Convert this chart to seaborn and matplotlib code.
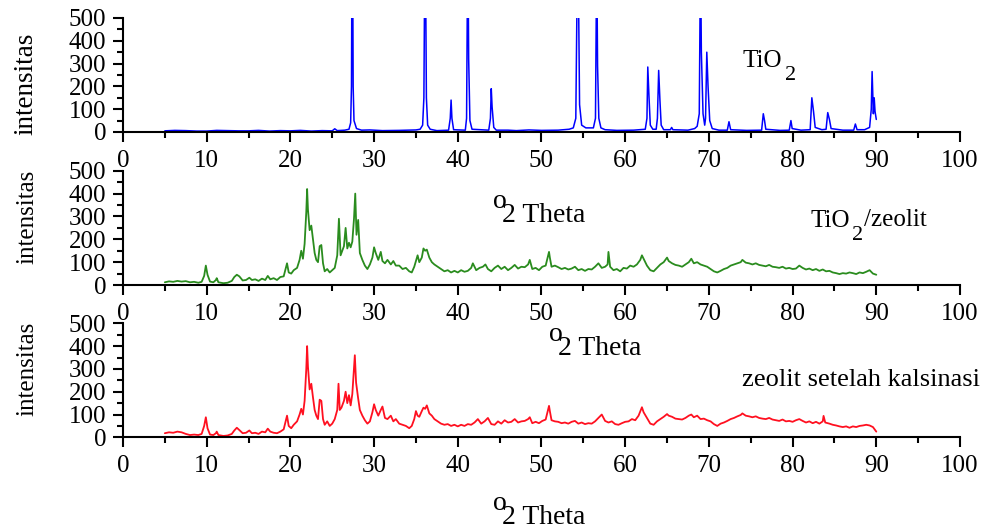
import numpy as np
import pandas as pd
import matplotlib.pyplot as plt
import seaborn as sea

### Data
# TiO2
tio2_pts = [(5.0, 5), (6.2, 7), (7.5, 6), (8.8, 4), (10.0, 4), (11.2, 7), (12.5, 6), (13.8, 5), (15.0, 5),
            (16.2, 7), (17.5, 4), (18.8, 6), (20.0, 5), (21.2, 7), (22.5, 4), (23.8, 6),
            (25.0, 5), (25.3, 14), (25.6, 6), (26.5, 8), (27.0, 12), (27.2, 40), (27.3, 200), (27.4, 1200),
            (27.5, 200), (27.6, 50), (27.9, 15), (28.5, 8), (29.5, 9), (31.0, 6), (33.0, 7), (35.0, 9),
            (35.5, 12), (35.8, 30), (35.95, 150), (36.1, 1000), (36.25, 150), (36.4, 30), (36.7, 12),
            (37.5, 6), (38.9, 8), (39.1, 60), (39.2, 140), (39.3, 60), (39.5, 10), (40.9, 8),
            (41.05, 60), (41.2, 900), (41.3, 320), (41.45, 50), (41.7, 12), (43.7, 8), (43.9, 60),
            (44.0, 190), (44.1, 110), (44.3, 20), (44.6, 8), (46.0, 8), (47.0, 6), (48.5, 9), (50.0, 7),
            (52.0, 8), (53.3, 12), (53.8, 18), (54.1, 60), (54.25, 600), (54.4, 700), (54.55, 120),
            (54.8, 30), (55.3, 18), (56.2, 18), (56.45, 60), (56.6, 800), (56.7, 290), (56.85, 60),
            (57.1, 18), (57.6, 10), (59.0, 7), (61.0, 8), (62.4, 12), (62.6, 60), (62.7, 285),
            (62.85, 150), (63.0, 30), (63.3, 12), (63.7, 12), (63.85, 60), (64.0, 270), (64.15, 140),
            (64.3, 30), (64.6, 10), (65.4, 10), (65.55, 20), (65.7, 10), (67.5, 8), (68.3, 15),
            (68.6, 25), (68.85, 80), (69.0, 800), (69.1, 350), (69.3, 80), (69.5, 30), (69.6, 60),
            (69.75, 350), (69.9, 200), (70.1, 50), (70.4, 15), (71.2, 8), (72.2, 8), (72.4, 45),
            (72.6, 10), (74.5, 7), (76.3, 8), (76.5, 80), (76.65, 50), (76.8, 12), (78.5, 7),
            (79.6, 8), (79.8, 50), (79.95, 15), (81.0, 8), (82.1, 10), (82.3, 150), (82.5, 90),
            (82.7, 20), (83.5, 10), (84.0, 12), (84.2, 85), (84.4, 55), (84.6, 15), (86.0, 8),
            (87.3, 8), (87.5, 35), (87.7, 10), (88.6, 10), (89.2, 20), (89.4, 100), (89.5, 265),
            (89.65, 80), (89.75, 150), (89.85, 90), (90.0, 55)]

# TiO2/zeolit
tio2_zeolit_pts = [(5.0, 12), (5.5, 16), (6.0, 14), (6.5, 18), (7.0, 15), (7.5, 17), (8.0, 12), (8.5, 14),
                   (9.0, 10), (9.4, 14), (9.7, 40), (9.9, 85), (10.1, 45), (10.4, 15), (10.8, 12),
                   (11.1, 22), (11.2, 30), (11.4, 12), (12.0, 8), (12.5, 10), (13.0, 18), (13.3, 35),
                   (13.6, 45), (13.9, 38), (14.3, 20), (14.7, 22), (15.1, 32), (15.4, 22), (15.8, 25),
                   (16.2, 18), (16.6, 28), (17.0, 22), (17.3, 40), (17.6, 25), (18.0, 30), (18.4, 22),
                   (18.8, 35), (19.2, 38), (19.6, 95), (19.8, 55), (20.1, 50), (20.4, 65), (20.8, 75),
                   (21.1, 110), (21.3, 150), (21.5, 115), (21.7, 180), (21.9, 320), (22.0, 420),
                   (22.1, 330), (22.3, 240), (22.5, 260), (22.7, 200), (22.9, 140), (23.1, 110),
                   (23.3, 100), (23.5, 170), (23.7, 175), (23.9, 95), (24.1, 60), (24.4, 70), (24.7, 55),
                   (25.0, 65), (25.3, 75), (25.6, 130), (25.8, 290), (26.0, 130), (26.2, 150), (26.4, 170),
                   (26.6, 250), (26.8, 160), (27.0, 185), (27.2, 165), (27.4, 190), (27.6, 290),
                   (27.75, 400), (27.9, 220), (28.1, 285), (28.3, 140), (28.6, 110), (28.9, 85),
                   (29.2, 70), (29.5, 90), (29.8, 120), (30.0, 165), (30.2, 140), (30.5, 110), (30.8, 145),
                   (31.0, 105), (31.3, 95), (31.6, 110), (32.0, 90), (32.3, 105), (32.6, 85), (33.0, 85),
                   (33.4, 70), (33.8, 75), (34.2, 60), (34.5, 55), (34.8, 80), (35.0, 105), (35.2, 130),
                   (35.4, 100), (35.7, 120), (35.9, 160), (36.1, 150), (36.3, 155), (36.6, 120),
                   (36.9, 100), (37.2, 90), (37.6, 80), (38.0, 70), (38.4, 60), (38.8, 65), (39.2, 55),
                   (39.6, 62), (40.0, 55), (40.4, 65), (40.8, 58), (41.2, 62), (41.6, 75), (41.8, 95),
                   (42.2, 65), (42.6, 75), (43.0, 80), (43.3, 90), (43.6, 70), (44.0, 60), (44.4, 75),
                   (44.8, 85), (45.2, 70), (45.6, 80), (46.0, 65), (46.4, 75), (46.8, 88), (47.2, 72),
                   (47.6, 80), (48.0, 78), (48.4, 90), (48.6, 110), (48.9, 70), (49.3, 75), (49.7, 65),
                   (50.1, 80), (50.5, 85), (50.9, 145), (51.0, 120), (51.2, 80), (51.6, 85), (52.0, 78),
                   (52.4, 70), (52.8, 75), (53.2, 68), (53.6, 72), (54.0, 80), (54.4, 65), (54.8, 70),
                   (55.2, 62), (55.6, 70), (56.0, 68), (56.4, 80), (56.8, 95), (57.2, 75), (57.6, 80),
                   (57.9, 90), (58.0, 145), (58.2, 80), (58.6, 65), (59.0, 70), (59.4, 60), (59.8, 75),
                   (60.2, 72), (60.6, 85), (61.0, 80), (61.4, 90), (61.8, 110), (62.0, 130), (62.2, 115),
                   (62.6, 85), (63.0, 65), (63.4, 60), (63.8, 75), (64.2, 90), (64.6, 100), (65.0, 120),
                   (65.2, 105), (65.6, 95), (66.0, 88), (66.4, 85), (66.8, 80), (67.2, 90), (67.6, 100),
                   (67.9, 115), (68.2, 95), (68.6, 100), (69.0, 90), (69.4, 85), (69.8, 80), (70.2, 70),
                   (70.6, 60), (71.0, 55), (71.4, 62), (71.8, 70), (72.2, 75), (72.6, 85), (73.0, 90),
                   (73.4, 95), (73.8, 100), (74.0, 110), (74.4, 98), (74.8, 95), (75.2, 90), (75.6, 95),
                   (76.0, 88), (76.4, 85), (76.8, 82), (77.2, 88), (77.6, 80), (78.0, 78), (78.4, 75),
                   (78.8, 80), (79.2, 72), (79.6, 75), (80.0, 70), (80.4, 72), (80.8, 85), (81.2, 75),
                   (81.6, 68), (82.0, 72), (82.4, 65), (82.8, 70), (83.2, 62), (83.6, 68), (84.0, 60),
                   (84.4, 62), (84.8, 55), (85.2, 52), (85.6, 48), (86.0, 52), (86.4, 50), (86.8, 55),
                   (87.2, 52), (87.6, 48), (88.0, 55), (88.4, 52), (88.8, 58), (89.2, 65), (89.6, 50),
                   (90.0, 45)]

# zeolit setelah kalsinasi
zeolit_pts = [(5.0, 18), (5.5, 22), (6.0, 20), (6.5, 25), (7.0, 22), (7.5, 15), (8.0, 10), (8.5, 12),
              (9.0, 10), (9.4, 15), (9.7, 50), (9.9, 88), (10.1, 40), (10.4, 12), (10.8, 10), (11.1, 18),
              (11.2, 25), (11.4, 10), (12.0, 6), (12.5, 8), (13.0, 15), (13.3, 30), (13.6, 42),
              (13.9, 32), (14.3, 18), (14.7, 20), (15.1, 30), (15.4, 18), (15.8, 20), (16.2, 15),
              (16.6, 25), (17.0, 22), (17.3, 38), (17.6, 25), (18.0, 20), (18.4, 18), (18.8, 25),
              (19.2, 35), (19.6, 95), (19.8, 50), (20.1, 40), (20.4, 55), (20.8, 70), (21.1, 100),
              (21.3, 125), (21.5, 100), (21.7, 160), (21.9, 300), (22.0, 400), (22.1, 310), (22.3, 210),
              (22.5, 235), (22.7, 175), (22.9, 120), (23.1, 95), (23.3, 80), (23.5, 165), (23.7, 160),
              (23.9, 80), (24.1, 55), (24.4, 70), (24.7, 50), (25.0, 60), (25.3, 80), (25.6, 120),
              (25.75, 235), (25.9, 120), (26.1, 130), (26.4, 160), (26.6, 200), (26.8, 150), (27.0, 185),
              (27.2, 140), (27.4, 190), (27.6, 300), (27.7, 360), (27.85, 240), (28.1, 170), (28.3, 120),
              (28.6, 95), (28.9, 75), (29.2, 60), (29.5, 70), (29.8, 110), (30.0, 145), (30.2, 120),
              (30.5, 95), (30.8, 120), (31.0, 135), (31.3, 85), (31.6, 80), (32.0, 95), (32.3, 70),
              (32.6, 80), (33.0, 60), (33.4, 55), (33.8, 50), (34.2, 40), (34.5, 50), (34.8, 80),
              (35.0, 115), (35.2, 95), (35.4, 90), (35.7, 115), (35.9, 130), (36.1, 125), (36.3, 140),
              (36.6, 105), (36.9, 95), (37.2, 80), (37.6, 70), (38.0, 60), (38.4, 55), (38.8, 58),
              (39.2, 50), (39.6, 55), (40.0, 48), (40.4, 55), (40.8, 50), (41.2, 58), (41.6, 55),
              (42.0, 65), (42.4, 80), (42.8, 60), (43.2, 70), (43.6, 85), (44.0, 58), (44.4, 55),
              (44.8, 70), (45.2, 60), (45.6, 75), (46.0, 65), (46.4, 68), (46.8, 80), (47.2, 65),
              (47.6, 70), (48.0, 72), (48.4, 80), (48.6, 88), (48.9, 62), (49.3, 68), (49.7, 62),
              (50.1, 72), (50.5, 78), (50.9, 138), (51.0, 115), (51.2, 75), (51.6, 70), (52.0, 68),
              (52.4, 62), (52.8, 65), (53.2, 60), (53.6, 68), (54.0, 72), (54.4, 60), (54.8, 65),
              (55.2, 58), (55.6, 62), (56.0, 60), (56.4, 70), (56.8, 85), (57.2, 100), (57.6, 72),
              (58.0, 65), (58.4, 70), (58.8, 58), (59.2, 55), (59.6, 62), (60.0, 68), (60.4, 70),
              (60.8, 80), (61.2, 75), (61.6, 95), (62.0, 132), (62.2, 110), (62.6, 85), (63.0, 60),
              (63.4, 55), (63.8, 70), (64.2, 80), (64.6, 90), (65.0, 102), (65.2, 95), (65.6, 90),
              (66.0, 82), (66.4, 80), (66.8, 78), (67.2, 85), (67.6, 95), (67.9, 100), (68.2, 88),
              (68.6, 95), (69.0, 80), (69.4, 82), (69.8, 75), (70.2, 70), (70.6, 58), (71.0, 50),
              (71.4, 60), (71.8, 65), (72.2, 72), (72.6, 80), (73.0, 85), (73.4, 92), (73.8, 98),
              (74.0, 105), (74.4, 95), (74.8, 92), (75.2, 88), (75.6, 92), (76.0, 85), (76.4, 82),
              (76.8, 80), (77.2, 85), (77.6, 78), (78.0, 75), (78.4, 72), (78.8, 78), (79.2, 70),
              (79.6, 72), (80.0, 68), (80.4, 75), (80.8, 80), (81.2, 72), (81.6, 65), (82.0, 70),
              (82.4, 62), (82.8, 68), (83.2, 60), (83.6, 70), (83.7, 94), (83.9, 65), (84.4, 60),
              (84.8, 55), (85.2, 52), (85.6, 48), (86.0, 45), (86.4, 48), (86.8, 42), (87.2, 48),
              (87.6, 45), (88.0, 50), (88.4, 52), (88.8, 55), (89.2, 52), (89.6, 45), (90.0, 25)]

cores = ['#0000ff', '#2a8c1e', '#ff1020']

### Estilo
sea.set_style('ticks', {'axes.edgecolor': 'black', 'xtick.color': 'black', 'ytick.color': 'black',
                        'text.color': 'black', 'axes.labelcolor': 'black'})
plt.rcParams['font.family'] = ['Liberation Serif', 'DejaVu Serif']

fig = plt.figure(figsize=(9.83, 5.29), dpi=100)

# posições dos 3 painéis (left, bottom, width, height)
posicoes = [[0.1251, 0.7505, 0.8515, 0.2155],
            [0.1251, 0.4612, 0.8515, 0.2160],
            [0.1251, 0.1733, 0.8515, 0.2155]]
xlabel_pos = [(0.503, -0.623), (0.570, -0.446), (0.503, -0.59)]
ylabel_pos = [(-0.101, 0.425), (-0.101, 0.60), (-0.101, 0.60)]
ylabel_size = [19.5, 18, 18]
larguras = [1.1, 1.3, 1.3]

series = [tio2_pts, tio2_zeolit_pts, zeolit_pts]
axes = []

for i, pts in enumerate(series):
    ax = fig.add_axes(posicoes[i])
    df = pd.DataFrame(pts, columns=['theta', 'intensitas'])
    sea.lineplot(data=df, x='theta', y='intensitas', ax=ax, color=cores[i],
                 linewidth=larguras[i], sort=False, estimator=None)
    ax.set_xlim(0, 100)
    ax.set_ylim(0, 500)
    ax.set_xticks(np.arange(0, 101, 10))
    ax.set_xticks(np.arange(0, 101, 5), minor=True)
    ax.set_yticks(np.arange(0, 501, 100))
    ax.set_yticks(np.arange(0, 501, 50), minor=True)
    ax.tick_params(which='major', direction='out', length=7, width=1.5, labelsize=18)
    ax.tick_params(which='minor', direction='out', length=4, width=1.5)
    ax.tick_params(axis='x', which='major', pad=6)
    ax.tick_params(axis='y', which='major', pad=5)
    for s in ['top', 'right']:
        ax.spines[s].set_visible(False)
    for s in ['left', 'bottom']:
        ax.spines[s].set_linewidth(1.5)
    ax.set_ylabel('intensitas', fontsize=ylabel_size[i])
    ax.yaxis.set_label_coords(*ylabel_pos[i])
    # rótulo "°2 Theta": o grau fica levantado à esquerda do "2"
    ax.set_xlabel('2 Theta', fontsize=20)
    ax.xaxis.set_label_coords(*xlabel_pos[i])
    ax.annotate('o', xy=(0, 1), xycoords=ax.xaxis.label, xytext=(3, 10), textcoords='offset points',
                fontsize=20, ha='right', va='top')
    ax.patch.set_alpha(0)
    axes.append(ax)

# Anotações das amostras (TiO2 com o "2" rebaixado, como no original)
t1 = axes[0].text(74.0, 286, 'TiO', fontsize=18, va='baseline')
axes[0].annotate('2', xy=(1, 0), xycoords=t1, xytext=(2, 4), textcoords='offset points',
                 fontsize=16, ha='left', va='top')

t2 = axes[1].text(82.1, 255, 'TiO', fontsize=18, va='baseline')
s2 = axes[1].annotate('2', xy=(1, 0), xycoords=t2, xytext=(2, 4), textcoords='offset points',
                      fontsize=16, ha='left', va='top')
axes[1].annotate('/zeolit', xy=(1, 0), xycoords=(s2, t2), xytext=(0, 4.1), textcoords='offset points',
                 fontsize=18, ha='left', va='baseline')

axes[2].text(74.0, 225, 'zeolit setelah kalsinasi', fontsize=19, va='baseline')

plt.savefig('out.png', dpi=100)
